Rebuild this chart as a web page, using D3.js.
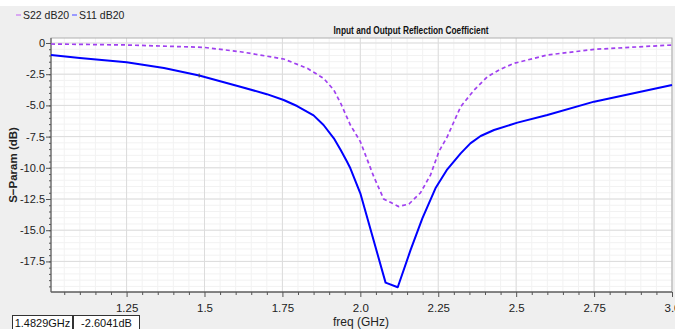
<!DOCTYPE html>
<html><head><meta charset="utf-8">
<script src="https://cdn.jsdelivr.net/npm/d3@7"></script>
<style>
body{margin:0;background:#fff;}
text{font-family:"Liberation Sans",Arial,sans-serif;}
</style></head>
<body><svg id="c" width="675" height="329"></svg>
<script>
const s11Freq = [1.0075,1.1,1.25,1.37,1.483,1.615,1.70,1.754,1.797,1.85,1.882,1.915,1.937,1.957,1.968,2.0,2.081,2.12,2.161,2.199,2.241,2.279,2.322,2.353,2.386,2.429,2.504,2.6,2.75,3.0];
const s11dB   = [-0.96,-1.2,-1.55,-2.0,-2.60,-3.5,-4.1,-4.57,-5.05,-5.8,-6.57,-7.64,-8.57,-9.5,-10.04,-12.04,-19.2,-19.57,-16.6,-14.05,-11.64,-10.12,-8.84,-8.04,-7.45,-6.97,-6.38,-5.77,-4.7,-3.37];
const s22Freq = [1.0075,1.25,1.497,1.615,1.754,1.83,1.882,1.915,1.937,1.968,2.0,2.043,2.075,2.123,2.156,2.193,2.225,2.252,2.279,2.322,2.365,2.408,2.45,2.493,2.6,2.75,3.0];
const s22dB   = [-0.08,-0.16,-0.35,-0.7,-1.28,-2.03,-2.83,-3.77,-4.83,-6.57,-7.9,-10.7,-12.5,-13.1,-12.9,-12.0,-10.58,-8.71,-7.5,-5.1,-3.77,-2.7,-2.1,-1.63,-0.96,-0.51,-0.16];
const xTicks = [1.25,1.5,1.75,2.0,2.25,2.5,2.75,3.0];
const xTickLabels = ["1.25","1.5","1.75","2.0","2.25","2.5","2.75","3.0"];
const yTicks = [0,-2.5,-5,-7.5,-10,-12.5,-15,-17.5];
const yTickLabels = ["0","-2.5","-5.0","-7.5","-10.0","-12.5","-15.0","-17.5"];
const seriesNames = ["S22 dB20","S11 dB20"];
const markerFreq = 1.4829, markerdB = -2.6041;
const title = "Input and Output Reflection Coefficient";

const svg = d3.select("#c");
const L=51,R=672,T=38,B=292;
svg.append("rect").attr("x",0).attr("y",6).attr("width",675).attr("height",323).attr("fill","#efefef");
const x = d3.scaleLinear().domain([1.0075,3.0]).range([L,R]);
const y = d3.scaleLinear().domain([0.4,-19.95]).range([T,B]);
svg.append("rect").attr("x",L).attr("y",T).attr("width",R-L).attr("height",B-T).attr("fill","#fff");

// grid
const xMinor = d3.range(1.05,3.0001,0.05);
const yMinor = d3.range(0,-19.9,-0.5);
const g = svg.append("g");
g.selectAll(".xm").data(xMinor).join("line").attr("x1",d=>x(d)).attr("x2",d=>x(d)).attr("y1",T).attr("y2",B).attr("stroke","#f2f2f2");
g.selectAll(".ym").data(yMinor).join("line").attr("x1",L).attr("x2",R).attr("y1",d=>y(d)).attr("y2",d=>y(d)).attr("stroke","#f2f2f2");
g.selectAll(".xM").data(xTicks).join("line").attr("x1",d=>x(d)).attr("x2",d=>x(d)).attr("y1",T).attr("y2",B).attr("stroke","#dcdcdc");
g.selectAll(".yM").data(yTicks).join("line").attr("x1",L).attr("x2",R).attr("y1",d=>y(d)).attr("y2",d=>y(d)).attr("stroke","#dcdcdc");

// border
svg.append("rect").attr("x",L).attr("y",T).attr("width",R-L).attr("height",B-T).attr("fill","none").attr("stroke","#b0b0b0");
svg.append("line").attr("x1",L).attr("x2",R).attr("y1",B).attr("y2",B).attr("stroke","#333").attr("stroke-width",1.2);
svg.append("line").attr("x1",L).attr("x2",L).attr("y1",T).attr("y2",B).attr("stroke","#666").attr("stroke-width",1.2);

// axes
const xAx = svg.append("g").attr("transform",`translate(0,${B})`).call(d3.axisBottom(x).tickValues(xTicks).tickFormat((d,i)=>xTickLabels[i]).tickSize(5).tickPadding(7));
const xMin = svg.append("g").attr("transform",`translate(0,${B})`).call(d3.axisBottom(x).tickValues(xMinor.filter(v=>!xTicks.some(t=>Math.abs(t-v)<1e-6))).tickFormat("").tickSize(3));
const yAx = svg.append("g").attr("transform",`translate(${L},0)`).call(d3.axisLeft(y).tickValues(yTicks).tickFormat((d,i)=>yTickLabels[i]).tickSize(5).tickPadding(1));
const yMin = svg.append("g").attr("transform",`translate(${L},0)`).call(d3.axisLeft(y).tickValues(yMinor).tickFormat("").tickSize(2));
[xAx,xMin,yAx,yMin].forEach(a=>{a.select(".domain").remove();a.selectAll("line").attr("stroke","#555");});
xAx.selectAll("text").attr("font-size",11.5).attr("fill","#222");
yAx.selectAll("text").attr("font-size",11).attr("fill","#222");

// lines
const line = d3.line().x(d=>x(d[0])).y(d=>y(d[1]));
svg.append("path").datum(s22Freq.map((f,i)=>[f,s22dB[i]])).attr("d",line).attr("fill","none").attr("stroke","#a040f0").attr("stroke-width",1.7).attr("stroke-dasharray","4,3");
svg.append("path").datum(s11Freq.map((f,i)=>[f,s11dB[i]])).attr("d",line).attr("fill","none").attr("stroke","#0000ff").attr("stroke-width",2).attr("stroke-linejoin","round");
// marker
svg.append("line").attr("x1",x(markerFreq)).attr("x2",x(markerFreq)).attr("y1",y(markerdB)-2).attr("y2",y(markerdB)+2).attr("stroke","#444");

// title
svg.append("text").attr("x",411).attr("y",34).attr("text-anchor","middle").attr("font-size",11).attr("font-weight","bold").attr("fill","#111")
  .attr("textLength",155).attr("lengthAdjust","spacingAndGlyphs").text(title);
// legend
const lg = svg.append("g");
const legCols = ["#d9a8f2","#9a9aff"], legX=[16,72];
seriesNames.forEach((n,i)=>{
  lg.append("line").attr("x1",legX[i]).attr("x2",legX[i]+5).attr("y1",15).attr("y2",15).attr("stroke",legCols[i]).attr("stroke-width",2);
  lg.append("text").attr("x",legX[i]+7).attr("y",19).attr("font-size",10.5).attr("fill","#222").text(n);
});
// axis titles
svg.append("text").attr("transform","translate(17,165) rotate(-90)").attr("text-anchor","middle").attr("font-size",11.5).attr("font-weight","bold").attr("fill","#222").text("S−Param (dB)");
svg.append("text").attr("x",361).attr("y",326).attr("text-anchor","middle").attr("font-size",12).attr("fill","#222").text("freq (GHz)");
// readout boxes
svg.append("rect").attr("x",12.5).attr("y",315.5).attr("width",60).attr("height",16).attr("fill","#fff").attr("stroke","#333");
svg.append("rect").attr("x",73.5).attr("y",315.5).attr("width",66).attr("height",16).attr("fill","#fff").attr("stroke","#333");
svg.append("text").attr("x",42.5).attr("y",327).attr("text-anchor","middle").attr("font-size",11).attr("fill","#111").text(markerFreq.toFixed(4)+"GHz");
svg.append("text").attr("x",106.5).attr("y",327).attr("text-anchor","middle").attr("font-size",11).attr("fill","#111").text(markerdB.toFixed(4)+"dB");
</script></body></html>
